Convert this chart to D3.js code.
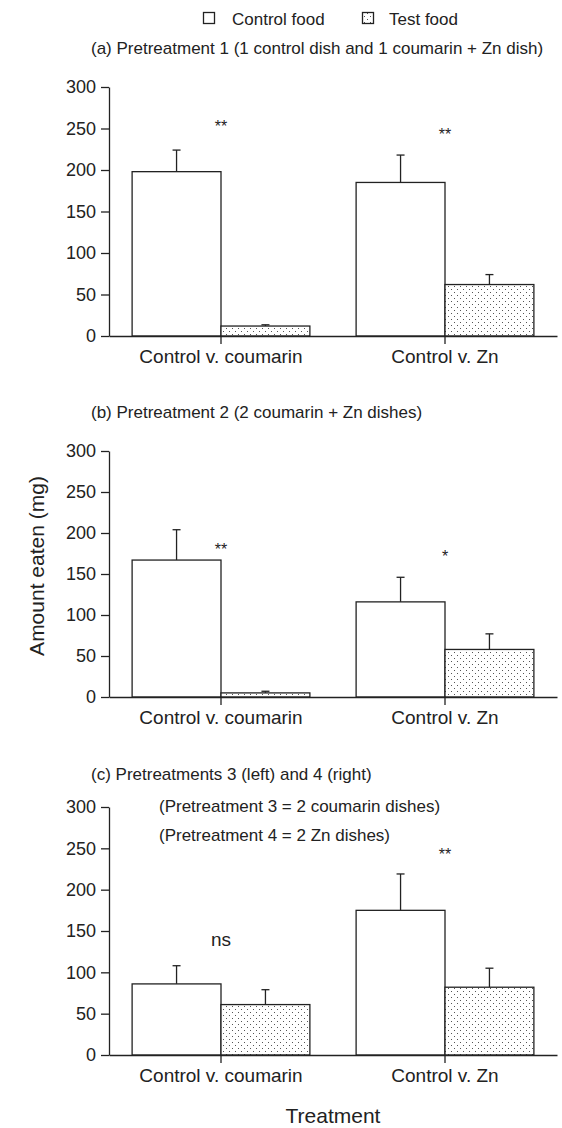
<!DOCTYPE html>
<html>
<head>
<meta charset="utf-8">
<script src="https://cdn.jsdelivr.net/npm/d3@7"></script>
<style>
  body { margin: 0; background: #fff; }
  text { font-family: "Liberation Sans", Arial, sans-serif; fill: #222; }
</style>
</head>
<body>
<div id="chart"></div>
<script>
// categories and series
var categories = ["Control v. coumarin", "Control v. Zn"];
var foods = ["Control food", "Test food"];

// panel (a)
var controlA = [198, 185], controlSeA = [26, 33];
var testA = [12, 62], testSeA = [1.5, 12];
var sigA = ["**", "**"], sigLevelA = [258, 248];

// panel (b)
var controlB = [167, 116], controlSeB = [37, 30];
var testB = [5, 58], testSeB = [2, 19];
var sigB = ["**", "*"], sigLevelB = [185, 177];

// panel (c)
var controlC = [86, 175], controlSeC = [22, 44];
var testC = [61, 82], testSeC = [18, 23];
var sigC = ["ns", "**"], sigLevelC = [139, 248];

var yTicks = [0, 50, 100, 150, 200, 250, 300];

var panels = [
  {title: "(a) Pretreatment 1 (1 control dish and 1 coumarin + Zn dish)", titleY: 54, top: 87, bottom: 336,
   control: controlA, controlSe: controlSeA, test: testA, testSe: testSeA, sig: sigA, sigLevel: sigLevelA},
  {title: "(b) Pretreatment 2 (2 coumarin + Zn dishes)", titleY: 418, top: 451, bottom: 697,
   control: controlB, controlSe: controlSeB, test: testB, testSe: testSeB, sig: sigB, sigLevel: sigLevelB},
  {title: "(c) Pretreatments 3 (left) and 4 (right)", titleY: 780, top: 807, bottom: 1055,
   control: controlC, controlSe: controlSeC, test: testC, testSe: testSeC, sig: sigC, sigLevel: sigLevelC,
   notes: ["(Pretreatment 3 = 2 coumarin dishes)", "(Pretreatment 4 = 2 Zn dishes)"]}
];

var width = 562, height = 1128;
var left = 109, right = 557;

var svg = d3.select("#chart").append("svg")
    .attr("width", width)
    .attr("height", height);

// dotted fill for test food
var defs = svg.append("defs");
var pat = defs.append("pattern")
    .attr("id", "dots")
    .attr("patternUnits", "userSpaceOnUse")
    .attr("width", 6).attr("height", 6);
pat.append("rect").attr("width", 6).attr("height", 6).attr("fill", "#fff");
pat.append("rect").attr("x", 1).attr("y", 1).attr("width", 1).attr("height", 1).attr("fill", "#555");
pat.append("rect").attr("x", 4).attr("y", 4).attr("width", 1).attr("height", 1).attr("fill", "#555");

// legend
var legend = svg.append("g");
var legendX = [203, 362];
var legendTextX = [232, 389];
foods.forEach(function(f, i) {
  legend.append("rect")
      .attr("x", legendX[i] + 0.5).attr("y", 12.5)
      .attr("width", 11).attr("height", 11)
      .attr("fill", i === 0 ? "#fff" : "url(#dots)")
      .attr("stroke", "#222").attr("stroke-width", 1.3);
  legend.append("text")
      .attr("x", legendTextX[i]).attr("y", 25)
      .style("font-size", "17px")
      .text(f);
});

var x0 = d3.scaleBand().domain(categories).range([left, right]);
var x1 = d3.scaleBand().domain(foods).range([0, x0.bandwidth()]).paddingOuter(0.26).paddingInner(0);

panels.forEach(function(p) {
  var y = d3.scaleLinear().domain([0, 300]).range([p.bottom, p.top]);
  var g = svg.append("g");

  g.append("text")
      .attr("x", 91).attr("y", p.titleY)
      .style("font-size", "17px")
      .text(p.title);

  // y axis
  var yAxis = g.append("g")
      .attr("transform", "translate(" + left + ",0)")
      .call(d3.axisLeft(y).tickValues(yTicks).tickSize(8).tickPadding(5).tickSizeOuter(0));
  yAxis.select(".domain").attr("stroke", "#222").attr("stroke-width", 1.3);
  yAxis.selectAll(".tick line").attr("stroke", "#222").attr("stroke-width", 1.3);
  yAxis.selectAll(".tick text")
      .style("font-size", "18px").style("font-family", "Liberation Sans, Arial, sans-serif").attr("fill", "#222");

  if (p.notes) {
    p.notes.forEach(function(n, i) {
      g.append("text")
          .attr("x", 159).attr("y", p.top + 5 + i * 29)
          .style("font-size", "17px")
          .text(n);
    });
  }

  var rows = categories.map(function(c, i) {
    return [
      {cat: c, food: foods[0], v: p.control[i], se: p.controlSe[i]},
      {cat: c, food: foods[1], v: p.test[i], se: p.testSe[i]}
    ];
  });
  var flat = d3.merge(rows);

  // error bars (drawn under bars)
  var eb = g.selectAll(".err").data(flat).enter().append("g");
  eb.append("line")
      .attr("x1", function(d) { return x0(d.cat) + x1(d.food) + x1.bandwidth() / 2; })
      .attr("x2", function(d) { return x0(d.cat) + x1(d.food) + x1.bandwidth() / 2; })
      .attr("y1", function(d) { return y(d.v); })
      .attr("y2", function(d) { return y(d.v + d.se); })
      .attr("stroke", "#222").attr("stroke-width", 1.3);
  eb.append("line")
      .attr("x1", function(d) { return x0(d.cat) + x1(d.food) + x1.bandwidth() / 2 - 4; })
      .attr("x2", function(d) { return x0(d.cat) + x1(d.food) + x1.bandwidth() / 2 + 4; })
      .attr("y1", function(d) { return y(d.v + d.se); })
      .attr("y2", function(d) { return y(d.v + d.se); })
      .attr("stroke", "#222").attr("stroke-width", 1.3);

  // bars
  g.selectAll(".bar").data(flat).enter().append("rect")
      .attr("x", function(d) { return x0(d.cat) + x1(d.food); })
      .attr("y", function(d) { return y(d.v); })
      .attr("width", x1.bandwidth())
      .attr("height", function(d) { return y(0) - y(d.v); })
      .attr("fill", function(d) { return d.food === foods[0] ? "#fff" : "url(#dots)"; })
      .attr("stroke", "#222").attr("stroke-width", 1.3);

  // x axis
  var xAxis = g.append("g")
      .attr("transform", "translate(0," + p.bottom + ")")
      .call(d3.axisBottom(x0).tickSize(8).tickSizeOuter(0).tickPadding(6));
  xAxis.select(".domain").attr("stroke", "#222").attr("stroke-width", 1.6);
  xAxis.selectAll(".tick line").attr("stroke", "#222").attr("stroke-width", 1.3);
  xAxis.selectAll(".tick text")
      .style("font-size", "19px").style("font-family", "Liberation Sans, Arial, sans-serif").attr("fill", "#222");

  // significance labels
  categories.forEach(function(c, i) {
    var isStar = p.sig[i].indexOf("*") >= 0;
    g.append("text")
        .attr("x", x0(c) + x0.bandwidth() / 2)
        .attr("y", y(p.sigLevel[i]) + (isStar ? 10 : 6))
        .attr("text-anchor", "middle")
        .style("font-size", isStar ? "16px" : "19px")
        .text(p.sig[i]);
  });
});

// axis titles
svg.append("text")
    .attr("transform", "translate(44,566)rotate(-90)")
    .attr("text-anchor", "middle")
    .style("font-size", "21px")
    .text("Amount eaten (mg)");

svg.append("text")
    .attr("x", 333).attr("y", 1123)
    .attr("text-anchor", "middle")
    .style("font-size", "21px")
    .text("Treatment");
</script>
</body>
</html>
